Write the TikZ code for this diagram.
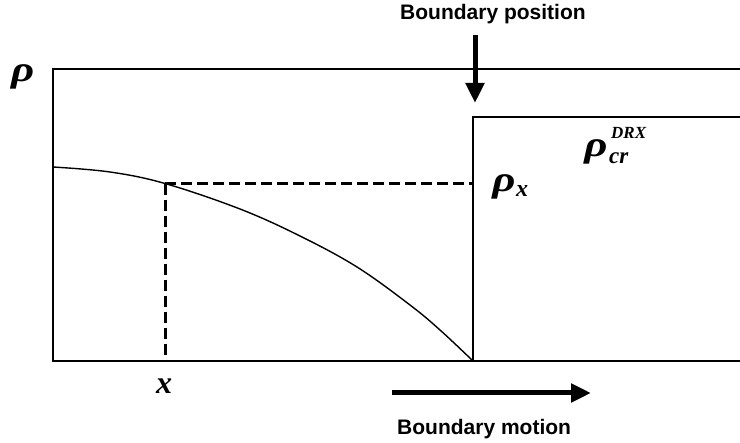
\documentclass[tikz,border=0pt]{standalone}
\usepackage{fontspec}
\setmainfont{Liberation Serif}
\newfontfamily\labsans{Liberation Sans}
\usetikzlibrary{arrows.meta}
\tikzset{
  frame/.style={line width=2pt},
  dashline/.style={line width=3pt, dash pattern=on 11pt off 5pt},
  curveline/.style={line width=1.4pt},
  bigarrow/.style={line width=5pt, -{Triangle[length=20pt,width=18pt]}},
  sanslab/.style={inner sep=0pt, anchor=base west, font=\labsans\bfseries\fontsize{21}{21}\selectfont},
  symlab/.style={inner sep=0pt, anchor=base west, xscale=1.25, font=\bfseries\itshape\fontsize{36}{36}\selectfont},
  sublab/.style={inner sep=0pt, anchor=base west, font=\bfseries\itshape\fontsize{#1}{#1}\selectfont}
}
\begin{document}
\begin{tikzpicture}[x=1pt,y=-1pt]
\useasboundingbox (0,0) rectangle (740,443);
% frame
\coordinate (tl) at (53,69);
\coordinate (tr) at (741,69);
\coordinate (bl) at (53,361);
\coordinate (br) at (741,361);
\coordinate (sb) at (473,361);
\coordinate (st) at (473,117);
\coordinate (sr) at (741,117);
\draw[frame] (tr) -- (tl) -- (bl) -- (br);
\draw[frame] (sb) -- (st) -- (sr);
% curve
\draw[curveline] plot[smooth, tension=0.6] coordinates {(53,167) (110,172) (165,183.5) (240,209) (300,236) (357,267) (410,305) (440,330) (473,361)};
% dashed guides
\coordinate (pxa) at (165,184);
\coordinate (dx) at (473,184);
\coordinate (dxb) at (165,361);
\draw[dashline] (pxa) -- (dx);
\draw[dashline] (pxa) -- (dxb);
% arrows
\coordinate (a1s) at (475,35);
\coordinate (a1e) at (475,103);
\draw[bigarrow] (a1s) -- (a1e);
\coordinate (a2s) at (392,393);
\coordinate (a2e) at (591,393);
\draw[bigarrow] (a2s) -- (a2e);
% labels
\node[sanslab] (bpos) at (400,20) {Boundary position};
\node[sanslab] (bmot) at (397,435) {Boundary motion};
\node[symlab] (rho) at (11,81.5) {ρ};
\node[symlab] (rhox) at (492,191.5) {ρ};
\node[sublab=24] (rhoxsub) at (516,197) {x};
\node[symlab] (rhocr) at (584,156.5) {ρ};
\node[sublab=23] (rhocrsub) at (609,164) {cr};
\node[sublab=17] (rhocrsup) at (611,139) {DRX};
\node[sublab=32] (xl) at (156,394) {x};
\end{tikzpicture}
\end{document}
